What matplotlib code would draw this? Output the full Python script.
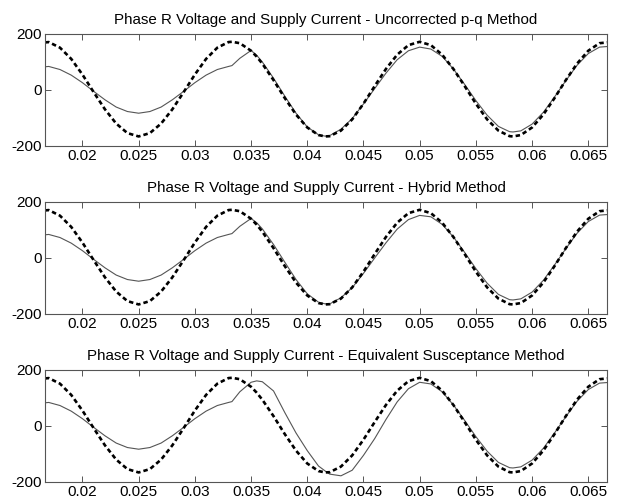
import matplotlib
matplotlib.use("Agg")
import matplotlib.pyplot as plt
from matplotlib.ticker import FixedLocator, FixedFormatter

plt.rcParams['font.family'] = ['Liberation Sans', 'DejaVu Sans']
plt.rcParams['lines.scale_dashes'] = False

# ---- data (time in ms) ----
t_ms = [16, 17, 18, 19, 20, 21, 22, 23, 24, 25, 26, 27, 28, 29, 30, 31, 32, 33, 33.3,
        34, 35, 35.5, 36, 37, 38, 39, 40, 41, 41.6, 42, 43, 44, 45, 46, 47, 48, 49, 50,
        51, 52, 53, 54, 55, 56, 57, 58, 58.3, 59, 60, 61, 62, 63, 64, 65, 66, 67]

voltage = [167, 171, 151, 111, 55, -8, -69, -120, -154, -166, -154, -120, -69, -8, 55, 111, 151, 171, 172,
           167, 140, 119, 94, 35, -29, -88, -134, -161, -166, -165, -145, -105, -49, 14, 75, 126, 160, 172,
           160, 126, 75, 14, -49, -105, -145, -165, -166, -161, -134, -88, -29, 35, 94, 140, 167, 171]

current_pq = [80, 84, 73, 53, 26, -5, -35, -61, -77, -83, -77, -61, -35, -5, 26, 53, 73, 84, 87,
              113, 141, 124, 100, 42, -22, -83, -132, -160, -165, -163, -140, -102, -50, 5, 60, 108, 140, 153,
              146, 120, 75, 20, -38, -90, -130, -149, -150, -146, -122, -80, -25, 33, 88, 130, 153, 156]

current_hybrid = [80, 84, 73, 53, 26, -5, -35, -61, -77, -83, -77, -61, -35, -5, 26, 53, 73, 84, 87,
                  113, 141, 126, 104, 48, -15, -77, -128, -158, -164, -164, -142, -106, -55, 0, 54, 103, 137, 152,
                  147, 120, 75, 20, -38, -90, -130, -149, -150, -146, -122, -80, -25, 33, 88, 130, 153, 156]

current_susc = [80, 84, 73, 53, 26, -5, -35, -61, -77, -83, -77, -61, -35, -5, 26, 53, 73, 84, 87,
                122, 156, 161, 158, 125, 48, -25, -88, -143, -161, -172, -178, -158, -105, -45, 23, 86, 133, 156,
                150, 122, 75, 20, -38, -90, -130, -149, -150, -146, -122, -80, -25, 33, 88, 130, 153, 156]

titles = ["Phase R Voltage and Supply Current - Uncorrected p-q Method",
          "Phase R Voltage and Supply Current - Hybrid Method",
          "Phase R Voltage and Supply Current - Equivalent Susceptance Method"]
currents = [current_pq, current_hybrid, current_susc]

xticks = [0.02, 0.025, 0.03, 0.035, 0.04, 0.045, 0.05, 0.055, 0.06, 0.065]
xticklabels = ["0.02", "0.025", "0.03", "0.035", "0.04", "0.045", "0.05", "0.055", "0.06", "0.065"]
yticks = [-200, 0, 200]
yticklabels = ["-200", "0", "200"]
xlim = (1 / 60, 1 / 60 + 0.05)
ylim = (-200, 200)

t = [v / 1000.0 for v in t_ms]

fig = plt.figure(figsize=(6.17, 5.03), dpi=100)
bottoms = [0.7098, 0.3758, 0.0418]
for b, title, cur in zip(bottoms, titles, currents):
    ax = fig.add_axes([0.0729, b, 0.9109, 0.2227])
    ax.plot(t, cur, color='#555555', linewidth=0.8, solid_joinstyle='round')
    ax.plot(t, voltage, color='black', linewidth=1.9, linestyle=(0, (3.2, 2.2)))
    ax.set_xlim(*xlim)
    ax.set_ylim(*ylim)
    ax.xaxis.set_major_locator(FixedLocator(xticks))
    ax.xaxis.set_major_formatter(FixedFormatter(xticklabels))
    ax.yaxis.set_major_locator(FixedLocator(yticks))
    ax.yaxis.set_major_formatter(FixedFormatter(yticklabels))
    ax.tick_params(direction='in', top=True, right=True, length=4, width=0.7,
                   color='#555555', labelsize=11)
    ax.tick_params(axis='x', pad=2.5)
    ax.tick_params(axis='y', pad=2)
    for s in ax.spines.values():
        s.set_color('#555555')
        s.set_linewidth(0.8)
    ax.set_title(title, fontsize=10.9, pad=7)

fig.savefig("out.png", dpi=100)
